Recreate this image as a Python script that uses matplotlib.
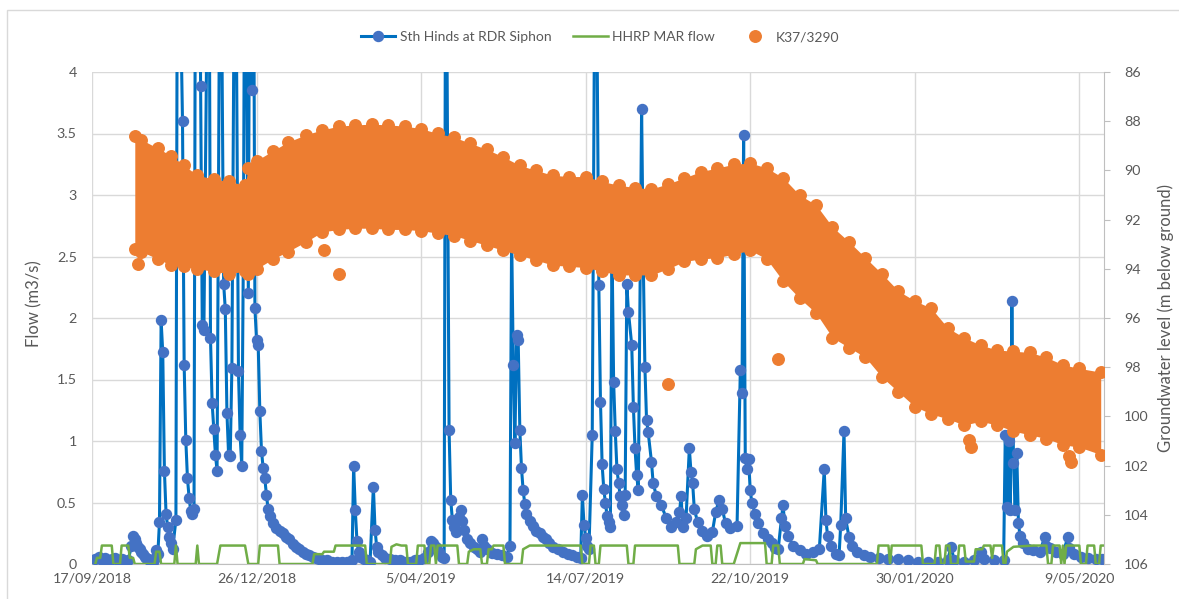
import numpy as np
import matplotlib
matplotlib.use('Agg')
import matplotlib.pyplot as plt
from matplotlib.ticker import FuncFormatter, MultipleLocator
from matplotlib.patches import Rectangle
from matplotlib.lines import Line2D

plt.rcParams['font.family'] = ['Lato', 'DejaVu Sans']

# days counted from 17/09/2018
start = np.datetime64('2018-09-17')

# Sth Hinds at RDR Siphon (m3/s), values above 4 run off the top of the chart
sth_hinds = [
    (2, 0.04), (4, 0.06), (6, 0.03), (8, 0.05), (10, 0.02), (12, 0.04), (14, 0.05), (16, 0.03),
    (18, 0.04), (20, 0.02), (22, 0.03), (24, 0.15), (25, 0.23), (26, 0.2), (27, 0.17), (28, 0.14),
    (29, 0.12), (30, 0.1), (31, 0.08), (32, 0.06), (33, 0.05), (34, 0.04), (35, 0.03), (36, 0.02),
    (37, 0.02), (38, 0.05), (39, 0.11), (40, 0.08), (41, 0.34), (42, 1.98), (43, 1.72), (44, 0.76),
    (45, 0.41), (46, 0.3), (47, 0.22), (48, 0.17), (49, 0.12), (51, 0.36), (52, 6.0), (55, 3.6),
    (56, 1.62), (57, 1.01), (58, 0.7), (59, 0.54), (60, 0.43), (61, 0.41), (62, 0.45), (63, 6.0),
    (65, 6.0), (66, 3.89), (67, 1.94), (68, 1.9), (71, 6.0), (72, 1.84), (73, 1.31), (74, 1.1),
    (75, 0.89), (76, 0.76), (78, 6.0), (80, 2.28), (81, 2.07), (82, 1.23), (83, 0.89), (84, 0.88),
    (85, 1.59), (87, 6.0), (89, 1.57), (90, 1.05), (91, 0.8), (92, 2.55), (93, 6.0), (95, 2.2),
    (96, 6.0), (97, 3.85), (98, 6.0), (99, 2.08), (100, 1.82), (101, 1.78), (102, 1.24), (103, 0.92),
    (104, 0.78), (105, 0.7), (106, 0.56), (107, 0.45), (108, 0.39), (110, 0.33), (112, 0.29),
    (114, 0.27), (116, 0.25), (118, 0.22), (120, 0.2), (122, 0.16), (124, 0.14), (126, 0.12),
    (128, 0.1), (130, 0.08), (132, 0.07), (134, 0.06), (136, 0.05), (138, 0.04), (140, 0.03),
    (143, 0.03), (146, 0.02), (149, 0.02), (152, 0.02), (155, 0.02), (158, 0.03), (159, 0.8),
    (160, 0.44), (161, 0.19), (162, 0.1), (163, 0.06), (165, 0.04), (167, 0.03), (169, 0.02),
    (171, 0.63), (172, 0.28), (173, 0.14), (174, 0.1), (176, 0.07), (178, 0.05), (181, 0.04),
    (184, 0.03), (187, 0.03), (190, 0.02), (193, 0.02), (196, 0.03), (199, 0.03), (202, 0.05),
    (204, 0.1), (206, 0.19), (207, 0.17), (209, 0.14), (211, 0.1), (213, 0.06), (214, 0.05),
    (215, 6.0), (217, 1.09), (218, 0.52), (219, 0.36), (220, 0.3), (221, 0.26), (222, 0.35),
    (223, 0.38), (224, 0.44), (225, 0.35), (226, 0.28), (228, 0.2), (230, 0.17), (232, 0.14),
    (234, 0.12), (236, 0.1), (237, 0.2), (238, 0.15), (240, 0.12), (243, 0.09), (246, 0.08),
    (249, 0.07), (252, 0.06), (254, 0.15), (255, 2.7), (256, 1.62), (257, 0.98), (258, 1.86),
    (259, 1.82), (260, 1.09), (261, 0.78), (262, 0.6), (263, 0.49), (264, 0.41), (266, 0.35),
    (268, 0.31), (270, 0.27), (272, 0.25), (274, 0.22), (276, 0.2), (278, 0.17), (280, 0.14),
    (283, 0.12), (286, 0.1), (289, 0.08), (292, 0.07), (295, 0.06), (297, 0.05), (298, 0.56),
    (299, 0.32), (300, 0.21), (301, 0.15), (302, 0.12), (304, 1.05), (306, 6.0), (308, 2.27),
    (309, 1.32), (310, 0.81), (311, 0.61), (312, 0.5), (313, 0.39), (314, 0.34), (315, 0.3),
    (316, 2.6), (317, 1.48), (318, 1.08), (319, 0.77), (320, 0.66), (321, 0.55), (322, 0.48),
    (323, 0.4), (324, 0.56), (325, 2.28), (326, 2.05), (328, 1.78), (329, 1.28), (330, 0.94),
    (331, 0.72), (332, 0.6), (334, 3.7), (335, 2.47), (336, 1.6), (337, 1.17), (338, 1.07),
    (340, 0.83), (341, 0.66), (343, 0.55), (346, 0.48), (349, 0.37), (352, 0.3), (355, 0.34),
    (357, 0.42), (358, 0.55), (359, 0.3), (361, 0.37), (363, 0.94), (364, 0.75), (365, 0.66),
    (366, 0.45), (368, 0.34), (371, 0.27), (374, 0.23), (377, 0.26), (379, 0.42), (381, 0.52),
    (383, 0.45), (385, 0.33), (388, 0.29), (392, 0.31), (394, 1.58), (395, 1.39), (396, 3.49),
    (397, 0.86), (398, 0.77), (399, 0.85), (400, 0.6), (401, 0.5), (403, 0.41), (405, 0.33),
    (408, 0.25), (411, 0.2), (413, 0.17), (415, 0.13), (417, 0.12), (419, 0.37), (420, 0.48),
    (421, 0.31), (423, 0.23), (426, 0.15), (430, 0.11), (434, 0.08), (438, 0.1), (442, 0.12),
    (445, 0.77), (446, 0.36), (447, 0.23), (449, 0.15), (452, 0.08), (454, 0.07), (455, 0.32),
    (457, 1.08), (458, 0.37), (460, 0.22), (462, 0.15), (465, 0.1), (469, 0.07), (473, 0.06),
    (478, 0.05), (484, 0.04), (490, 0.04), (496, 0.03), (502, 0.02), (508, 0.02), (514, 0.02),
    (520, 0.03), (522, 0.14), (524, 0.03), (530, 0.02), (536, 0.03), (540, 0.1), (542, 0.04),
    (548, 0.03), (554, 0.03), (555, 1.05), (556, 0.46), (557, 1.0), (558, 0.44), (559, 2.14),
    (560, 0.82), (561, 0.44), (562, 0.9), (563, 0.33), (564, 0.23), (566, 0.17), (569, 0.12),
    (572, 0.11), (576, 0.1), (579, 0.22), (580, 0.15), (582, 0.13), (586, 0.1), (590, 0.08),
    (593, 0.22), (594, 0.13), (597, 0.08), (601, 0.06), (605, 0.05), (610, 0.04), (614, 0.04),
]

# HHRP MAR flow (m3/s), points where the on/off level changes
hhrp_mar = [
    (2, 0.0), (3, 0.05), (5, 0.05), (6, 0.15), (12, 0.15), (13, 0.0), (17, 0.0), (18, 0.15),
    (22, 0.15), (23, 0.05), (25, 0.05), (26, 0.0), (38, 0.0), (39, 0.1), (41, 0.1), (42, 0.0),
    (50, 0.0), (51, 0.15), (52, 0.0), (63, 0.0), (64, 0.15), (65, 0.0), (76, 0.0), (78, 0.15),
    (93, 0.15), (95, 0.0), (101, 0.0), (102, 0.15), (113, 0.15), (114, 0.0), (134, 0.0),
    (135, 0.08), (140, 0.08), (141, 0.1), (147, 0.1), (148, 0.15), (166, 0.15), (167, 0.0),
    (181, 0.0), (182, 0.14), (185, 0.16), (188, 0.15), (191, 0.15), (192, 0.0), (197, 0.0),
    (198, 0.15), (202, 0.15), (203, 0.0), (205, 0.0), (206, 0.15), (208, 0.15), (209, 0.0),
    (210, 0.15), (222, 0.15), (223, 0.0), (228, 0.0), (229, 0.1), (232, 0.12), (236, 0.12),
    (237, 0.0), (240, 0.0), (241, 0.12), (243, 0.12), (244, 0.15), (250, 0.15), (251, 0.0),
    (261, 0.0), (262, 0.12), (266, 0.15), (297, 0.15), (298, 0.0), (302, 0.0), (303, 0.15),
    (305, 0.15), (306, 0.0), (308, 0.0), (309, 0.15), (325, 0.15), (326, 0.0), (329, 0.0),
    (330, 0.15), (356, 0.15), (357, 0.0), (366, 0.0), (367, 0.12), (371, 0.15), (376, 0.15),
    (377, 0.0), (379, 0.0), (380, 0.15), (382, 0.15), (383, 0.0), (390, 0.0), (394, 0.17),
    (409, 0.17), (410, 0.0), (413, 0.0), (414, 0.15), (417, 0.15), (418, 0.0), (432, 0.0),
    (433, 0.04), (440, 0.03), (441, 0.0), (477, 0.0), (478, 0.15), (484, 0.15), (485, 0.0),
    (486, 0.15), (504, 0.15), (505, 0.0), (512, 0.0), (513, 0.15), (515, 0.15), (516, 0.0),
    (518, 0.0), (519, 0.15), (521, 0.15), (522, 0.0), (526, 0.0), (527, 0.15), (530, 0.15),
    (531, 0.02), (536, 0.02), (537, 0.12), (541, 0.12), (542, 0.15), (546, 0.15), (547, 0.05),
    (548, 0.15), (553, 0.15), (554, 0.0), (555, 0.0), (556, 0.1), (560, 0.14), (572, 0.15),
    (580, 0.15), (581, 0.0), (583, 0.0), (584, 0.15), (588, 0.15), (589, 0.0), (590, 0.15),
    (591, 0.0), (592, 0.15), (600, 0.15), (601, 0.0), (604, 0.0), (605, 0.15), (609, 0.15),
    (610, 0.0), (612, 0.0), (613, 0.15), (615, 0.15),
]

# K37/3290 groundwater level (m below ground): upper and lower edge of the logged band
gw_days = [26, 30, 40, 48, 56, 64, 74, 83, 93, 95, 100, 110, 119, 130, 140, 150, 160, 170, 180, 190,
           200, 210, 220, 230, 240, 250, 260, 270, 280, 290, 300, 310, 320, 330, 340, 350, 360, 370,
           380, 390, 400, 410, 420, 430, 440, 450, 460, 470, 480, 490, 500, 510, 520, 530, 540, 550,
           560, 570, 580, 590, 600, 613]
gw_top = [88.6, 88.75, 89.1, 89.4, 89.8, 90.2, 90.35, 90.45, 90.6, 89.9, 89.6, 89.2, 88.85, 88.55,
          88.35, 88.2, 88.15, 88.12, 88.15, 88.2, 88.3, 88.5, 88.65, 88.9, 89.15, 89.45, 89.8, 90.0,
          90.2, 90.25, 90.25, 90.45, 90.6, 90.7, 90.75, 90.55, 90.3, 90.05, 89.9, 89.75, 89.7, 89.9,
          90.3, 91.0, 91.4, 92.3, 92.9, 93.55, 94.2, 94.9, 95.3, 95.6, 96.4, 96.8, 97.1, 97.3, 97.35,
          97.4, 97.6, 97.9, 98.05, 98.2]
gw_bot = [93.2, 93.3, 93.6, 93.85, 93.9, 94.0, 94.1, 94.2, 94.1, 94.2, 94.0, 93.6, 93.3, 92.9, 92.5,
          92.4, 92.35, 92.35, 92.4, 92.4, 92.45, 92.55, 92.65, 92.85, 93.05, 93.25, 93.45, 93.65,
          93.85, 93.9, 93.95, 94.1, 94.25, 94.25, 94.25, 94.0, 93.7, 93.6, 93.55, 93.4, 93.25, 93.6,
          94.5, 95.2, 95.8, 96.8, 97.2, 97.6, 98.4, 99.0, 99.6, 99.9, 100.1, 100.35, 100.2, 100.35,
          100.6, 100.75, 100.9, 101.15, 101.25, 101.55]
# single readings away from the band
gw_out_days = [28, 141, 150, 350, 417, 533, 534, 594, 595]
gw_out = [93.8, 93.25, 94.2, 98.7, 97.65, 100.95, 101.25, 101.6, 101.85]

tick_days = [0, 100, 200, 300, 400, 500, 600]


def to_dates(days):
    return start + np.array(days).astype('timedelta64[D]')


blue_c = '#0070C0'
blue_m = '#4472C4'
green_c = '#70AD47'
orange_c = '#ED7D31'
text_c = '#595959'
grid_c = '#D9D9D9'

fig = plt.figure(figsize=(11.79, 5.99), dpi=100)
fig.patches.append(Rectangle((7 / 1179, -0.05), 1.2, 589 / 599 + 0.05, transform=fig.transFigure,
                             fill=False, edgecolor=grid_c, lw=1))
ax = fig.add_axes([92 / 1179, 35 / 599, 1012 / 1179, 492 / 599])

d, v = zip(*sth_hinds)
ax.plot(to_dates(d), v, color=blue_c, lw=2.2, marker='o', ms=7.2, mfc=blue_m, mec=blue_m, zorder=3)
d, v = zip(*hhrp_mar)
ax.plot(to_dates(d), v, color=green_c, lw=1.8, zorder=4)

ax.set_ylim(0, 4)
ax.yaxis.set_major_locator(MultipleLocator(0.5))
ax.yaxis.set_major_formatter(FuncFormatter(lambda y, p: f'{y:g}'))
ax.set_xlim(to_dates([0])[0], to_dates([615])[0])
ax.set_xticks(to_dates(tick_days))


def fmt_date(x, p):
    dt = matplotlib.dates.num2date(x)
    return f'{dt.day}/{dt.month:02d}/{dt.year}'


ax.xaxis.set_major_formatter(FuncFormatter(fmt_date))
ax.grid(True, color=grid_c, lw=1)
ax.set_axisbelow(True)
for s in ['left', 'top', 'right']:
    ax.spines[s].set_visible(False)
ax.spines['bottom'].set_color('#BFBFBF')
ax.tick_params(axis='both', length=0, colors=text_c, labelsize=10.3)
ax.tick_params(axis='y', pad=11)
ax.tick_params(axis='x', pad=6)
ax.set_ylabel('Flow (m3/s)', color=text_c, fontsize=12)
ax.yaxis.set_label_coords(-0.049, 0.53)

ax2 = ax.twinx()
gd = to_dates(gw_days)
ax2.fill_between(gd, gw_top, gw_bot, color=orange_c, lw=0, zorder=2)
ax2.plot(gd, gw_top, 'o', color=orange_c, ms=8.3, zorder=3)
ax2.plot(gd, gw_bot, 'o', color=orange_c, ms=8.3, zorder=3)
ax2.plot(to_dates(gw_out_days), gw_out, 'o', color=orange_c, ms=8.3, zorder=3)
ax2.set_ylim(106, 86)
ax2.set_yticks(np.arange(86, 107, 2))
for s in ['left', 'top', 'bottom']:
    ax2.spines[s].set_visible(False)
ax2.spines['right'].set_color('#BFBFBF')
ax2.tick_params(axis='y', length=4.5, color='#BFBFBF', colors=text_c, labelsize=10.3, pad=10)
ax2.set_ylabel('Groundwater level (m below ground)', color=text_c, fontsize=12)
ax2.yaxis.set_label_coords(1.053, 0.5)

handles = [
    Line2D([], [], color=blue_c, lw=2.2, marker='o', ms=7.2, mfc=blue_m, mec=blue_m),
    Line2D([], [], color=green_c, lw=1.8),
    Line2D([], [], color=orange_c, lw=0, marker='o', ms=8.3),
]
fig.legend(handles, ['Sth Hinds at RDR Siphon', 'HHRP MAR flow', 'K37/3290'], loc='center',
           bbox_to_anchor=(0.509, 0.938), ncol=3, frameon=False, fontsize=10, handlelength=2.5,
           handletextpad=0.3, columnspacing=1.6, labelcolor=text_c)

fig.savefig('out.png', dpi=100)
